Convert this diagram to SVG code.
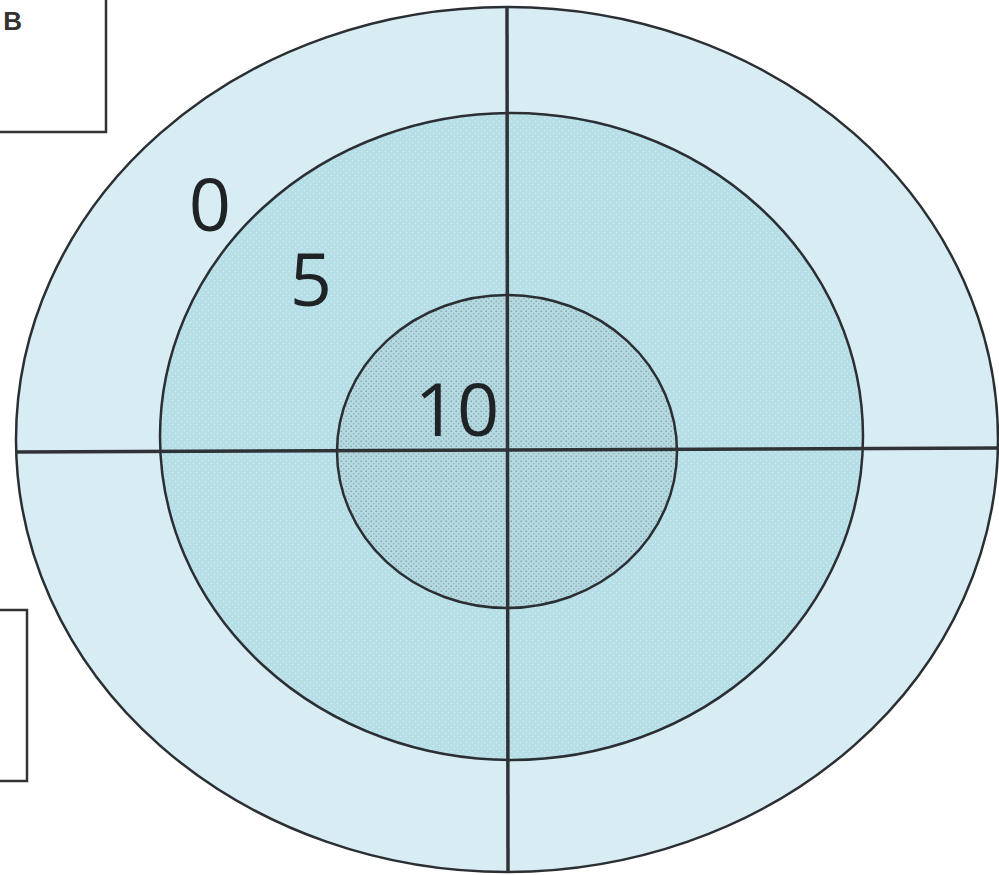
<svg xmlns="http://www.w3.org/2000/svg" width="999" height="875" viewBox="0 0 999 875">
<style>
.ring{stroke:#2b2f33;stroke-width:2.5}
.box{fill:#fff;stroke:#333;stroke-width:2.5}
.lbl{font-family:"Open Sans","DejaVu Sans",sans-serif;font-size:74px;fill:#1f2326;text-anchor:middle}
.axis{stroke:#2f3338;stroke-width:3.5;fill:none}
</style>
<defs>
<pattern id="dotsMid" width="6" height="6" patternUnits="userSpaceOnUse">
<rect width="6" height="6" fill="#b6dee7"/>
<circle cx="1.5" cy="1.5" r="0.8" fill="#d6eef3"/>
<circle cx="4.5" cy="4.5" r="0.8" fill="#d6eef3"/>
</pattern>
<pattern id="dotsIn" width="5" height="5" patternUnits="userSpaceOnUse">
<rect width="5" height="5" fill="#b4d9e0"/>
<circle cx="1.2" cy="1.2" r="0.8" fill="#7e9da6"/>
<circle cx="3.7" cy="3.7" r="0.8" fill="#8fb0b8"/>
</pattern>
</defs>
<rect width="999" height="875" fill="#fff"/>
<g id="box-top">
<rect class="box" x="-5" y="-5" width="111" height="137"/>
<text x="22" y="30" font-family="Liberation Sans, sans-serif" font-size="26" font-weight="bold" fill="#333" text-anchor="end">В</text>
</g>
<g id="box-bottom">
<rect class="box" x="-5" y="610" width="32" height="171"/>
</g>
<g id="ring-0">
<ellipse class="ring" cx="507" cy="439.5" rx="491" ry="432.5" fill="#d7edf3"/>
</g>
<g id="ring-5">
<ellipse class="ring" cx="511.5" cy="436.5" rx="351.5" ry="323.5" fill="url(#dotsMid)"/>
</g>
<g id="ring-10">
<ellipse class="ring" cx="507" cy="451.5" rx="170" ry="156.5" fill="url(#dotsIn)"/>
</g>
<g id="connectors">
<line class="axis" x1="507" y1="7" x2="508" y2="872"/>
<line class="axis" x1="16" y1="452" x2="999" y2="448"/>
</g>
<g id="labels">
<text class="lbl" x="210" y="231">0</text>
<text class="lbl" x="311" y="306">5</text>
<text class="lbl" x="457" y="436" font-size="78">10</text>
</g>
</svg>
